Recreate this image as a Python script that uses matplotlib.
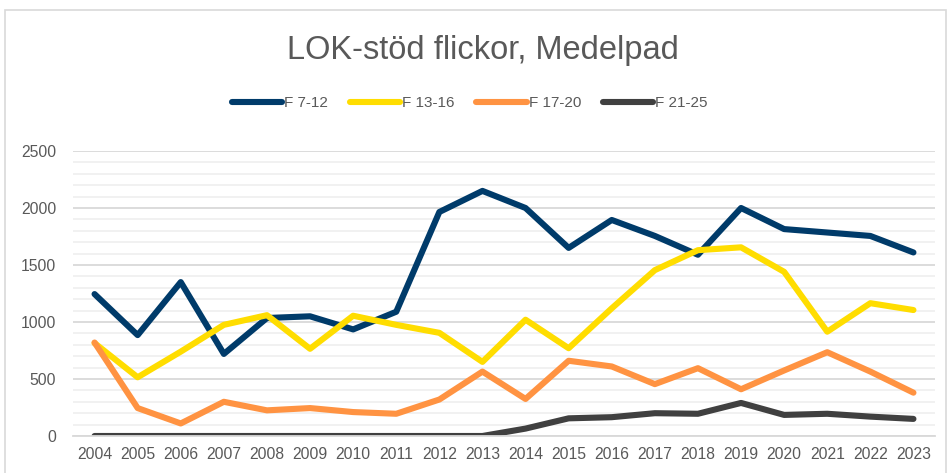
import numpy as np
import matplotlib.pyplot as plt
from matplotlib.patches import Rectangle
from matplotlib.ticker import MultipleLocator

plt.rcParams['font.family'] = ['Liberation Sans', 'DejaVu Sans']

years = list(range(2004, 2024))

f_7_12 = [1245, 885, 1350, 720, 1035, 1050, 935, 1090, 1965, 2150, 2000, 1650, 1895, 1755, 1590,
          2000, 1815, 1785, 1755, 1610]
f_13_16 = [815, 515, 740, 975, 1060, 765, 1055, 975, 905, 650, 1020, 770, 1120, 1455, 1630,
           1655, 1440, 915, 1165, 1105]
f_17_20 = [820, 245, 110, 300, 225, 245, 210, 195, 320, 565, 325, 660, 610, 455, 595,
           410, 575, 735, 565, 380]
f_21_25 = [0, 0, 0, 0, 0, 0, 0, 0, 0, 0, 65, 155, 165, 200, 195, 290, 185, 195, 170, 150]

series = [
    ("F 7-12", f_7_12, "#003B6A"),
    ("F 13-16", f_13_16, "#FFDD00"),
    ("F 17-20", f_17_20, "#FF9342"),
    ("F 21-25", f_21_25, "#404040"),
]

fig = plt.figure(figsize=(9.53, 4.73), dpi=100)
ax = fig.add_axes([73/953, 1 - 436/473, (935 - 73)/953, (436 - 151)/473])

# chart border like the Excel frame
fig.patches.append(Rectangle((5/953, -0.05), (946 - 5)/953, 1 - 10/473 + 0.05,
                             transform=fig.transFigure, fill=False,
                             edgecolor="#d9d9d9", linewidth=1.2))

for name, vals, col in series:
    ax.plot(years, vals, color=col, linewidth=4.4, label=name,
            solid_capstyle='round', solid_joinstyle='round')

ax.set_xlim(2003.5, 2023.5)
ax.set_ylim(0, 2500)
ax.yaxis.set_major_locator(MultipleLocator(500))
ax.yaxis.set_minor_locator(MultipleLocator(100))
ax.set_xticks(years)
ax.set_xticklabels([str(y) for y in years])

ax.grid(which='major', axis='y', color="#d9d9d9", linewidth=1.3)
ax.grid(which='minor', axis='y', color="#f0f0f0", linewidth=1.3)
ax.set_axisbelow(True)

for s in ['top', 'right', 'left']:
    ax.spines[s].set_visible(False)
ax.spines['bottom'].set_color("#d9d9d9")
ax.spines['bottom'].set_linewidth(1.3)

ax.tick_params(axis='both', which='both', length=0, labelsize=11.3, colors="#595959")
ax.tick_params(axis='y', pad=12)
ax.tick_params(axis='x', pad=8)

fig.text(0.507, 0.894, "LOK-stöd flickor, Medelpad", ha='center', va='center',
         fontsize=23.5, color="#595959")

fig.legend(loc='center', bbox_to_anchor=(0.493, 0.782), ncol=4, frameon=False,
           fontsize=11, handlelength=3.3, handletextpad=0.15, columnspacing=1.4,
           labelcolor="#595959")

fig.savefig("out.png", dpi=100)
